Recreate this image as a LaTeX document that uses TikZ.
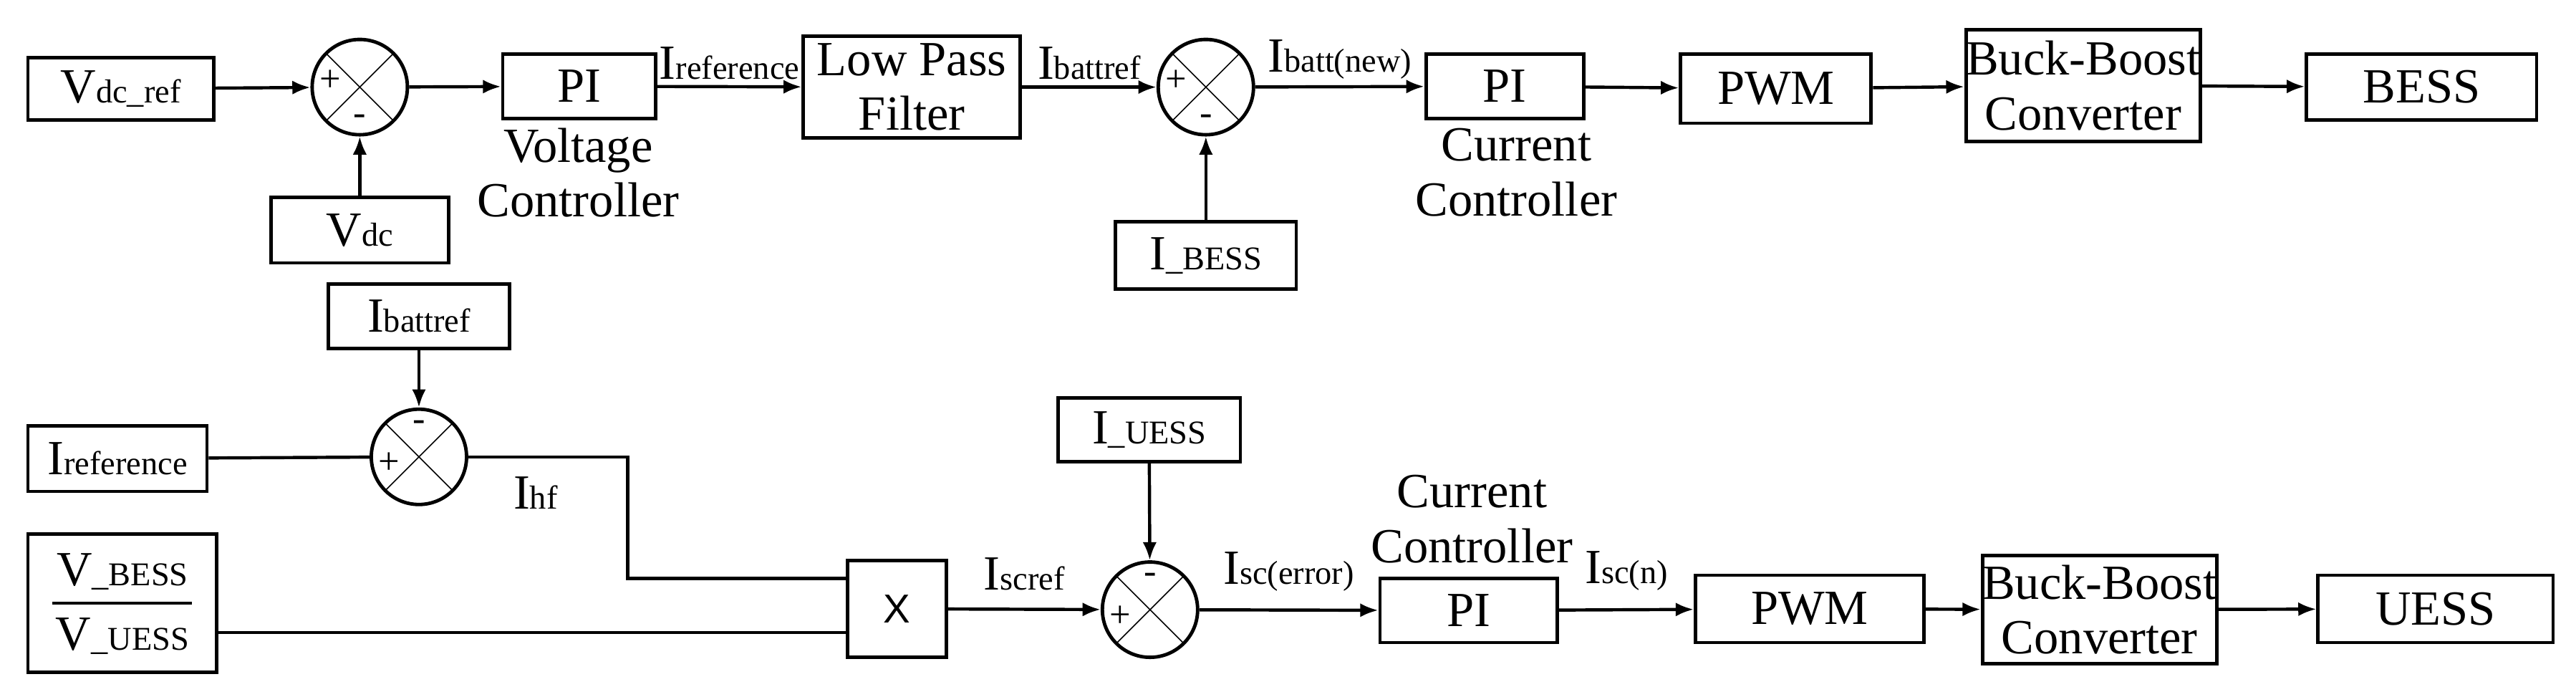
\documentclass[tikz,border=0pt]{standalone}
\usepackage{fontspec}
\setmainfont{Liberation Serif}
\usetikzlibrary{arrows.meta}
\newcommand{\bigf}{\fontsize{17}{19}\selectfont}
\newcommand{\smf}[1]{{\fontsize{11.5}{13}\selectfont #1}}
\newcommand{\bx}[6]{\node[box, minimum width={(#4-#2)*0.02cm}, minimum height={(#5-#3)*0.02cm}] (#1) at ({(#2+#4)/2},{(#3+#5)/2}) {#6};}
\newcommand{\sm}[3]{\node[sumc] (#1) at (#2,#3) {};
 \draw ($(#1.center)+(-20.5,-20.5)$) -- ($(#1.center)+(20.5,20.5)$);
 \draw ($(#1.center)+(20.5,-20.5)$) -- ($(#1.center)+(-20.5,20.5)$);}
\usetikzlibrary{calc}
\begin{document}
\begin{tikzpicture}[x=0.02cm,y=-0.02cm,
 box/.style={draw,line width=1.2pt,inner sep=0pt,align=center,font=\bigf},
 sumc/.style={draw,circle,line width=1.2pt,minimum size=1.16cm,inner sep=0pt},
 ar/.style={-{Latex[length=0.22cm,width=0.17cm]},line width=1.1pt},
 ln/.style={line width=1.1pt},
 lb/.style={font=\bigf,inner sep=0pt},
 sg/.style={font=\fontsize{13}{14}\selectfont,inner sep=0pt}]
\useasboundingbox (0,0) rectangle (1568,424);
% top row
\bx{vref}{17}{35}{130}{73}{V\smf{dc\_ref}}
\sm{s1}{219}{53}
\node[sg] at (201,49) {+}; \node[sg] at (219,73) {-};
\bx{vdc}{165}{120}{273}{160}{V\smf{dc}}
\bx{pi1}{306}{33}{399}{72}{PI}
\node[lb,align=center] at (352,105) {Voltage\\Controller};
\bx{lpf}{489}{22}{621}{84}{Low Pass\\Filter}
\sm{s2}{734}{53}
\node[sg] at (716,49) {+}; \node[sg] at (734,73) {-};
\bx{ib}{679}{135}{789}{176}{I\smf{\_BESS}}
\bx{pi2}{868}{33}{964}{72}{PI}
\node[lb,align=center] at (923,105) {Current\\Controller};
\bx{pwm1}{1023}{33}{1139}{75}{PWM}
\bx{bb1}{1200}{18}{1336}{86}{Buck-Boost\\Converter}
\bx{bess}{1404}{33}{1544}{73}{BESS}
\draw[ar] (vref) -- (s1);
\draw[ar] (vdc) -- (s1);
\draw[ar] (s1) -- (pi1);
\draw[ar] (pi1) -- (lpf) node[midway,above=2pt,lb] {I\smf{reference}};
\draw[ar] (lpf) -- (s2) node[midway,above=2pt,lb] {I\smf{battref}};
\draw[ar] (ib) -- (s2);
\draw[ar] (s2) -- (pi2) node[midway,above=2pt,lb] {I\smf{batt(new)}};
\draw[ar] (pi2) -- (pwm1);
\draw[ar] (pwm1) -- (bb1);
\draw[ar] (bb1) -- (bess);
% bottom
\bx{ibr}{200}{173}{310}{212}{I\smf{battref}}
\sm{s3}{255}{278}
\node[sg] at (255,259) {-}; \node[sg] at (237,282) {+};
\bx{iref}{17}{259}{126}{299}{I\smf{reference}}
\bx{frac}{17}{325}{132}{409}{}
\node[lb] at (74.5,348) {V\smf{\_BESS}};
\node[lb] at (74.5,387) {V\smf{\_UESS}};
\draw[line width=1.2pt] (32,367) -- (117,367);
\bx{mul}{516}{341}{576}{400}{\fontfamily{}\fontspec{Liberation Sans}\fontsize{14}{16}\selectfont X}
\sm{s4}{700}{371}
\node[sg] at (700,352) {-}; \node[sg] at (682,375) {+};
\bx{iu}{644}{242}{755}{281}{I\smf{\_UESS}}
\bx{pi3}{840}{352}{948}{391}{PI}
\node[lb,align=center] at (896,316) {Current\\Controller};
\bx{pwm2}{1032}{350}{1171}{391}{PWM}
\bx{bb2}{1210}{338}{1346}{404}{Buck-Boost\\Converter}
\bx{uess}{1411}{350}{1554}{391}{UESS}
\draw[ar] (ibr) -- (s3);
\draw[ln] (iref) -- (s3);
\coordinate (c1) at (382,278);
\coordinate (c2) at (382,352);
\coordinate (m1) at (516,352);
\coordinate (m2) at (516,385);
\draw[ln] (s3) -- (c1) -- (c2) -- (m1);
\node[lb] at (326,300) {I\smf{hf}};
\draw[ln] (frac.east |- m2) -- (m2);
\draw[ar] (mul) -- (s4) node[midway,above=6pt,lb] {I\smf{scref}};
\draw[ar] (iu) -- (s4);
\draw[ar] (s4) -- (pi3) node[midway,above=6pt,lb] {I\smf{sc(error)}};
\draw[ar] (pi3) -- (pwm2) node[midway,above=6pt,lb] {I\smf{sc(n)}};
\draw[ar] (pwm2) -- (bb2);
\draw[ar] (bb2) -- (uess);
\end{tikzpicture}
\end{document}
